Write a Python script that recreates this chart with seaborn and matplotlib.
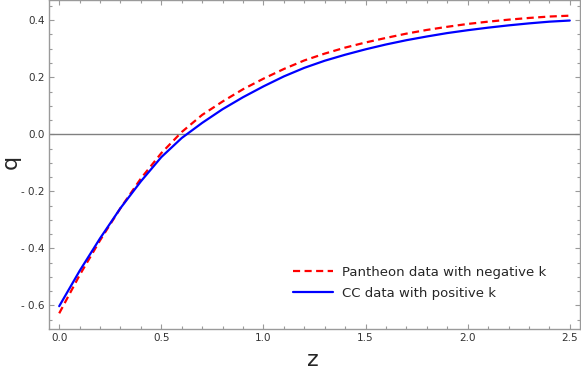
import matplotlib
matplotlib.use("Agg")
import matplotlib.pyplot as plt
from matplotlib.ticker import MultipleLocator, FuncFormatter
from matplotlib.lines import Line2D
import seaborn as sns
import pandas as pd

# Data
z_values = [0.0, 0.1, 0.2, 0.3, 0.4, 0.5, 0.6, 0.7, 0.8, 0.9, 1.0,
            1.1, 1.2, 1.3, 1.4, 1.5, 1.6, 1.7, 1.8, 1.9, 2.0,
            2.1, 2.2, 2.3, 2.4, 2.5]
q_pantheon = [-0.628, -0.494, -0.372, -0.259, -0.155, -0.066, 0.008, 0.068,
              0.115, 0.158, 0.195, 0.229, 0.259, 0.283, 0.304, 0.322,
              0.338, 0.353, 0.366, 0.377, 0.387, 0.395, 0.402, 0.408,
              0.413, 0.416]
q_cc = [-0.603, -0.479, -0.365, -0.259, -0.165, -0.080, -0.013, 0.040,
        0.088, 0.130, 0.168, 0.203, 0.233, 0.258, 0.279, 0.298,
        0.315, 0.330, 0.343, 0.355, 0.365, 0.374, 0.382, 0.389,
        0.395, 0.399]
series_names = ["Pantheon data with negative k", "CC data with positive k"]
x_ticks = [0.0, 0.5, 1.0, 1.5, 2.0, 2.5]
y_ticks = [-0.6, -0.4, -0.2, 0.0, 0.2, 0.4]

df = pd.DataFrame({
    "z": z_values + z_values,
    "q": q_pantheon + q_cc,
    "series": [series_names[0]] * len(z_values) + [series_names[1]] * len(z_values),
})

sns.set_style("white")
plt.rcParams["font.family"] = ["DejaVu Sans"]

W, H = 581, 371
fig = plt.figure(figsize=(W / 100, H / 100), dpi=100)
ax = fig.add_axes([49 / W, 42 / H, 531 / W, 329 / H])

ax.axhline(0, color="#808080", lw=1.0, zorder=1)

sns.lineplot(data=df, x="z", y="q", hue="series", style="series",
             palette={series_names[0]: "#ff0000", series_names[1]: "#0000ff"},
             dashes={series_names[0]: (3.2, 2.0), series_names[1]: ""},
             linewidth=1.6, ax=ax, legend=False, zorder=3)

ax.set_xlim(-0.05, 2.55)
ax.set_ylim(-0.683, 0.471)

ax.set_xticks(x_ticks)
ax.set_yticks(y_ticks)
ax.xaxis.set_minor_locator(MultipleLocator(0.1))
ax.yaxis.set_minor_locator(MultipleLocator(0.05))

def fmt(v, pos):
    s = f"{abs(v):.1f}"
    return ("- " + s) if v < -1e-9 else s

ax.xaxis.set_major_formatter(FuncFormatter(fmt))
ax.yaxis.set_major_formatter(FuncFormatter(fmt))

frame_col = "#9a9a9a"
for sp in ax.spines.values():
    sp.set_color(frame_col)
    sp.set_linewidth(1.0)
    sp.set_visible(True)

ax.tick_params(which="both", direction="in", top=True, right=True,
               bottom=True, left=True, color=frame_col, width=0.8)
ax.tick_params(which="major", length=3.8, labelsize=7.5, labelcolor="#333333", pad=3)
ax.tick_params(which="minor", length=2.2)

ax.set_xlabel("")
ax.set_ylabel("")
fig.text(313 / W, 1 / H, "z", fontsize=16, ha="center", va="bottom")
fig.text(1 / W, 1 - 162 / H, "q", fontsize=16, ha="left", va="center",
         rotation=90)

handles = [Line2D([], [], color="#ff0000", lw=1.6, dashes=(3.2, 2.0)),
           Line2D([], [], color="#0000ff", lw=1.6)]
fig.legend(handles, series_names, loc="upper left",
           bbox_to_anchor=(293 / W, 1 - 266 / H), frameon=False,
           fontsize=9.5, handlelength=3.0, handletextpad=0.7,
           labelspacing=0.6, borderaxespad=0, borderpad=0)

fig.savefig("out.png", dpi=100)
